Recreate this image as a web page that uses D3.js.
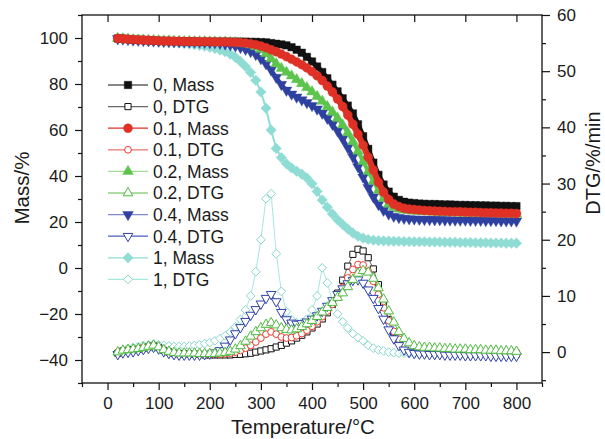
<!DOCTYPE html>
<html>
<head>
<meta charset="utf-8">
<script src="https://cdn.jsdelivr.net/npm/d3@7"></script>
<style>
  body { margin: 0; background: #fff; }
  text { font-family: "Liberation Sans", Arial, Helvetica, sans-serif; fill: #1a1a1a; }
</style>
</head>
<body>
<svg id="chart" width="605" height="439"></svg>
<script>
// Temperature grid (°C) shared by every series
const temperature = [
  20, 30, 40, 50, 60, 70, 80, 90, 100, 110,
  120, 130, 140, 150, 160, 170, 180, 190, 200, 210,
  220, 230, 240, 250, 260, 270, 280, 290, 300, 310,
  320, 330, 340, 350, 360, 370, 380, 390, 400, 410,
  420, 430, 440, 450, 460, 470, 480, 490, 500, 510,
  520, 530, 540, 550, 560, 570, 580, 590, 600, 610,
  620, 630, 640, 650, 660, 670, 680, 690, 700, 710,
  720, 730, 740, 750, 760, 770, 780, 790, 800
];

// Residual mass (%) — left axis
const mass0 = [
  99.8, 99.7, 99.5, 99.3, 99.2, 99.1, 99.0, 98.9, 98.8, 98.7,
  98.7, 98.6, 98.6, 98.5, 98.5, 98.5, 98.4, 98.4, 98.4, 98.4,
  98.4, 98.4, 98.4, 98.4, 98.4, 98.4, 98.3, 98.3, 98.2, 98.1,
  97.8, 97.5, 97.2, 96.8, 96.0, 94.9, 93.6, 91.8, 89.8, 87.6,
  85.2, 82.5, 79.7, 76.8, 73.8, 70.6, 67.2, 62.5, 57.3, 51.8,
  45.8, 40.5, 36.3, 33.2, 31.0, 29.6, 28.8, 28.4, 28.2, 28.0,
  27.9, 27.8, 27.8, 27.7, 27.6, 27.6, 27.5, 27.4, 27.4, 27.3,
  27.3, 27.2, 27.2, 27.1, 27.1, 27.0, 27.0, 26.9, 26.9
];
const mass01 = [
  99.8, 99.7, 99.5, 99.3, 99.2, 99.1, 99.0, 98.9, 98.8, 98.7,
  98.7, 98.6, 98.6, 98.5, 98.5, 98.5, 98.4, 98.4, 98.4, 98.3,
  98.3, 98.3, 98.2, 98.1, 98.0, 97.8, 97.5, 97.1, 96.5, 95.8,
  94.9, 94.0, 93.0, 91.9, 90.8, 89.6, 88.4, 87.0, 85.4, 83.6,
  81.5, 79.1, 76.5, 73.5, 70.2, 66.5, 62.5, 58.2, 53.4, 48.2,
  42.6, 37.3, 33.0, 29.8, 27.8, 26.7, 26.0, 25.6, 25.4, 25.2,
  25.0, 24.9, 24.8, 24.7, 24.6, 24.5, 24.5, 24.4, 24.3, 24.2,
  24.2, 24.1, 24.0, 24.0, 23.9, 23.9, 23.8, 23.8, 23.7
];
const mass02 = [
  99.8, 99.7, 99.5, 99.3, 99.2, 99.1, 99.0, 98.9, 98.8, 98.7,
  98.7, 98.6, 98.6, 98.5, 98.5, 98.4, 98.4, 98.4, 98.3, 98.3,
  98.2, 98.2, 98.1, 98.0, 97.8, 97.5, 97.0, 96.2, 95.0, 93.2,
  91.0, 88.8, 86.8, 85.1, 83.5, 81.9, 80.2, 78.4, 76.6, 74.6,
  72.5, 70.2, 67.8, 65.2, 62.2, 58.8, 55.0, 50.8, 46.4, 42.0,
  37.8, 33.8, 30.3, 27.8, 26.5, 25.7, 25.2, 24.9, 24.7, 24.6,
  24.5, 24.4, 24.3, 24.2, 24.1, 24.1, 24.0, 23.9, 23.9, 23.8,
  23.8, 23.7, 23.7, 23.6, 23.6, 23.5, 23.5, 23.4, 23.4
];
const mass04 = [
  99.7, 99.5, 99.3, 99.1, 99.0, 98.9, 98.8, 98.7, 98.6, 98.5,
  98.5, 98.4, 98.4, 98.3, 98.3, 98.2, 98.2, 98.1, 98.0, 97.9,
  97.7, 97.4, 97.0, 96.5, 95.9, 95.1, 94.1, 92.8, 91.0, 88.8,
  86.1, 82.9, 79.8, 77.3, 75.6, 74.3, 73.1, 71.9, 70.6, 69.1,
  67.3, 65.1, 62.5, 59.6, 56.2, 52.4, 48.3, 44.0, 39.5, 35.0,
  30.9, 27.6, 25.1, 23.5, 22.5, 21.9, 21.6, 21.4, 21.3, 21.2,
  21.1, 21.1, 21.0, 21.0, 20.9, 20.9, 20.8, 20.8, 20.8, 20.7,
  20.7, 20.7, 20.6, 20.6, 20.6, 20.5, 20.5, 20.5, 20.4
];
const mass1 = [
  99.9, 99.8, 99.6, 99.4, 99.2, 99.0, 98.8, 98.6, 98.4, 98.3,
  98.1, 98.0, 97.8, 97.6, 97.4, 97.1, 96.8, 96.4, 96.0, 95.5,
  94.8, 94.0, 93.0, 91.6, 89.8, 87.6, 85.0, 81.6, 76.5, 69.5,
  60.0, 52.0, 48.0, 45.3, 43.5, 42.1, 40.8, 39.1, 36.6, 33.3,
  29.6, 26.4, 23.5, 21.0, 18.9, 17.0, 15.2, 13.8, 13.0, 12.4,
  12.1, 11.9, 11.8, 11.7, 11.6, 11.6, 11.5, 11.5, 11.4, 11.4,
  11.4, 11.3, 11.3, 11.3, 11.2, 11.2, 11.2, 11.1, 11.1, 11.1,
  11.0, 11.0, 11.0, 10.9, 10.9, 10.9, 10.8, 10.8, 10.8
];

// Derivative mass loss (%/min) — right axis
const dtg0 = [
  -0.2, 0.2, 0.3, 0.4, 0.5, 0.7, 0.9, 1.1, 0.8, 0.3,
  0.0, -0.2, -0.3, -0.3, -0.3, -0.4, -0.4, -0.5, -0.5, -0.5,
  -0.5, -0.5, -0.5, -0.4, -0.4, -0.3, -0.2, 0.0, 0.2, 0.4,
  0.6, 0.9, 1.2, 1.6, 2.0, 2.5, 3.0, 3.6, 4.3, 5.0,
  5.9, 7.0, 8.5, 10.5, 12.8, 15.3, 17.4, 18.3, 18.0, 16.8,
  14.8, 12.0, 8.8, 5.8, 3.5, 2.0, 1.0, 0.5, 0.3, 0.2,
  0.1, 0.1, 0.0, 0.0, 0.0, -0.1, -0.1, -0.1, -0.1, -0.1,
  -0.2, -0.2, -0.2, -0.2, -0.2, -0.2, -0.2, -0.3, -0.3
];
const dtg01 = [
  -0.1, 0.2, 0.3, 0.4, 0.6, 0.8, 1.0, 1.1, 0.8, 0.3,
  0.0, -0.2, -0.3, -0.3, -0.3, -0.3, -0.4, -0.4, -0.4, -0.4,
  -0.4, -0.3, -0.2, 0.0, 0.3, 0.7, 1.2, 1.8, 2.5, 3.2,
  3.6, 3.2, 2.7, 2.5, 2.6, 2.9, 3.3, 3.9, 4.6, 5.4,
  6.3, 7.3, 8.5, 9.9, 11.5, 13.2, 14.7, 15.6, 15.5, 14.4,
  12.6, 10.3, 7.9, 5.6, 3.7, 2.3, 1.4, 0.9, 0.6, 0.5,
  0.4, 0.4, 0.3, 0.3, 0.3, 0.2, 0.2, 0.2, 0.2, 0.1,
  0.1, 0.1, 0.1, 0.1, 0.0, 0.0, 0.0, 0.0, 0.0
];
const dtg02 = [
  0.0, 0.3, 0.4, 0.5, 0.6, 0.8, 1.0, 1.2, 0.9, 0.4,
  0.1, -0.1, -0.2, -0.2, -0.2, -0.2, -0.3, -0.3, -0.3, -0.3,
  -0.2, -0.1, 0.1, 0.5, 1.1, 1.9, 2.8, 3.6, 4.3, 4.9,
  5.2, 4.8, 4.3, 4.0, 3.9, 4.1, 4.5, 5.0, 5.6, 6.3,
  7.1, 7.9, 8.8, 9.7, 10.5, 11.6, 12.9, 14.0, 14.5, 14.2,
  13.1, 11.4, 9.4, 7.3, 5.3, 3.6, 2.4, 1.6, 1.1, 0.9,
  0.8, 0.8, 0.7, 0.7, 0.6, 0.6, 0.5, 0.5, 0.5, 0.4,
  0.4, 0.4, 0.3, 0.3, 0.3, 0.2, 0.2, 0.2, 0.1
];
const dtg04 = [
  -0.4, -0.1, 0.0, 0.1, 0.3, 0.5, 0.7, 0.9, 0.6, 0.1,
  -0.2, -0.4, -0.5, -0.5, -0.5, -0.5, -0.5, -0.4, -0.3, -0.1,
  0.3, 1.1, 2.2, 3.3, 4.4, 5.5, 6.6, 7.6, 8.6, 9.6,
  10.3, 9.0, 7.1, 5.8, 5.2, 5.0, 5.1, 5.4, 5.9, 6.5,
  7.3, 8.2, 9.2, 10.3, 11.3, 12.2, 12.8, 12.9, 12.3, 11.1,
  9.6, 7.8, 5.9, 4.0, 2.4, 1.2, 0.4, 0.0, -0.2, -0.3,
  -0.3, -0.4, -0.4, -0.4, -0.5, -0.5, -0.5, -0.5, -0.6, -0.6,
  -0.6, -0.6, -0.6, -0.7, -0.7, -0.7, -0.7, -0.7, -0.7
];
const dtg1 = [
  -0.1, 0.3, 0.6, 0.8, 1.0, 1.2, 1.3, 1.4, 1.3, 1.2,
  1.1, 1.0, 1.0, 1.0, 1.1, 1.2, 1.3, 1.5, 1.7, 2.0,
  2.4, 2.9, 3.6, 4.5, 5.8, 7.5, 10.0, 14.3, 20.0, 27.3,
  28.2, 17.5, 10.8, 7.2, 5.8, 5.2, 5.2, 5.9, 7.5, 10.0,
  15.0, 12.3, 9.0, 6.8, 5.4, 4.3, 3.3, 2.6, 2.0, 1.2,
  0.7, 0.4, 0.2, 0.0, -0.1, -0.2, -0.2, -0.3, -0.3, -0.3,
  -0.3, -0.3, -0.3, -0.3, -0.3, -0.3, -0.3, -0.3, -0.3, -0.3,
  -0.3, -0.3, -0.3, -0.3, -0.3, -0.3, -0.3, -0.3, -0.3
];

// Axis ticks
const xTicks = [0, 100, 200, 300, 400, 500, 600, 700, 800];
const xMinorTicks = [-50, 50, 150, 250, 350, 450, 550, 650, 750, 850];
const massTicks = [-40, -20, 0, 20, 40, 60, 80, 100];
const massMinorTicks = [-50, -30, -10, 10, 30, 50, 70, 90, 110];
const dtgTicks = [0, 10, 20, 30, 40, 50, 60];
const dtgMinorTicks = [-5, 5, 15, 25, 35, 45, 55];

const W = 605, H = 439;
const plot = { left: 82, right: 542, top: 15, bottom: 383 };

const x = d3.scaleLinear().domain([-50, 850]).range([plot.left, plot.right]);
const yMass = d3.scaleLinear().domain([-50, 110]).range([plot.bottom, plot.top]);
const yDtg = d3.scaleLinear().domain([-5.5, 60]).range([plot.bottom, plot.top]);

const svg = d3.select("#chart");

// Marker shapes
const diamond = {
  draw(ctx, size) {
    const r = Math.sqrt(size / 2);
    ctx.moveTo(0, -r); ctx.lineTo(r, 0); ctx.lineTo(0, r); ctx.lineTo(-r, 0); ctx.closePath();
  }
};
const triDown = {
  draw(ctx, size) {
    const s = Math.sqrt(size * 4 / Math.sqrt(3));
    const h = s * Math.sqrt(3) / 2;
    ctx.moveTo(0, h * 2 / 3); ctx.lineTo(s / 2, -h / 3); ctx.lineTo(-s / 2, -h / 3); ctx.closePath();
  }
};
const shapes = {
  square: d3.symbolSquare,
  circle: d3.symbolCircle,
  up: d3.symbolTriangle,
  down: triDown,
  diamond: diamond
};
const filledSize = { square: 56, circle: 64, up: 50, down: 50, diamond: 56 };
const openSize = { square: 38, circle: 36, up: 40, down: 40, diamond: 38 };

// Series definitions (legend order); band = width of the solid trace under dense markers
const series = [
  { label: "0, Mass",   values: mass0,  axis: "mass", shape: "square",  filled: true,  color: "#111111", line: "#111111", band: 5 },
  { label: "0, DTG",    values: dtg0,   axis: "dtg",  shape: "square",  filled: false, color: "#111111", line: "#6a6a6a", band: 1 },
  { label: "0.1, Mass", values: mass01, axis: "mass", shape: "circle",  filled: true,  color: "#e03127", line: "#e03127", band: 6 },
  { label: "0.1, DTG",  values: dtg01,  axis: "dtg",  shape: "circle",  filled: false, color: "#ec3a31", line: "#f07272", band: 1 },
  { label: "0.2, Mass", values: mass02, axis: "mass", shape: "up",      filled: true,  color: "#5dc54e", line: "#a3dd96", band: 4 },
  { label: "0.2, DTG",  values: dtg02,  axis: "dtg",  shape: "up",      filled: false, color: "#4dbb3f", line: "#5cc04c", band: 1 },
  { label: "0.4, Mass", values: mass04, axis: "mass", shape: "down",    filled: true,  color: "#2e40a0", line: "#7f89c6", band: 4 },
  { label: "0.4, DTG",  values: dtg04,  axis: "dtg",  shape: "down",    filled: false, color: "#2e40a8", line: "#4a5cbc", band: 1 },
  { label: "1, Mass",   values: mass1,  axis: "mass", shape: "diamond", filled: true,  color: "#8fdcd5", line: "#8fdcd5", band: 2 },
  { label: "1, DTG",    values: dtg1,   axis: "dtg",  shape: "diamond", filled: false, color: "#86d6cf", line: "#a8e6e0", band: 1 }
];

// Drawing order of the curves (later ones sit on top)
const drawOrder = ["1, Mass", "0.4, Mass", "0.2, Mass", "0, Mass", "0.1, Mass",
                   "1, DTG", "0, DTG", "0.1, DTG", "0.4, DTG", "0.2, DTG"];

function symbolPath(s, scale) {
  const size = (s.filled ? filledSize : openSize)[s.shape] * (scale || 1);
  return d3.symbol().type(shapes[s.shape]).size(size)();
}

const curves = svg.append("g");
drawOrder.forEach(name => {
  const s = series.find(d => d.label === name);
  const yS = s.axis === "mass" ? yMass : yDtg;
  const pts = temperature.map((t, i) => [t, s.values[i]]);
  const g = curves.append("g");
  g.append("path")
    .attr("d", d3.line().x(d => x(d[0])).y(d => yS(d[1]))(pts))
    .attr("fill", "none")
    .attr("stroke", s.band > 1 ? s.color : s.line)
    .attr("stroke-width", s.band)
    .attr("stroke-linejoin", "round");
  g.selectAll("path.mk").data(pts).join("path")
    .attr("class", "mk")
    .attr("d", symbolPath(s))
    .attr("transform", d => `translate(${x(d[0])},${yS(d[1])})`)
    .attr("fill", s.filled ? s.color : "#fff")
    .attr("stroke", s.color)
    .attr("stroke-width", s.filled ? 0.4 : 1);
});

// Axes
const axisFont = 17;
function styleAxis(g) {
  g.select(".domain").remove();
  g.selectAll("line").attr("stroke", "#111").attr("stroke-width", 1.2);
  g.selectAll("text").attr("font-size", axisFont).attr("fill", "#1a1a1a")
    .attr("font-family", '"Liberation Sans", Arial, sans-serif');
}

svg.append("g").attr("transform", `translate(0,${plot.bottom})`)
  .call(d3.axisBottom(x).tickValues(xTicks).tickSize(7).tickPadding(7).tickFormat(d3.format("d")))
  .call(styleAxis);
svg.append("g").attr("transform", `translate(0,${plot.bottom})`)
  .call(d3.axisBottom(x).tickValues(xMinorTicks).tickSize(4).tickFormat(""))
  .call(styleAxis);
svg.append("g").attr("transform", `translate(0,${plot.top})`)
  .call(d3.axisBottom(x).tickValues(xTicks).tickSize(7).tickFormat(""))
  .call(styleAxis);

svg.append("g").attr("transform", `translate(${plot.left},0)`)
  .call(d3.axisLeft(yMass).tickValues(massTicks).tickSize(7).tickPadding(7))
  .call(styleAxis);
svg.append("g").attr("transform", `translate(${plot.left},0)`)
  .call(d3.axisLeft(yMass).tickValues(massMinorTicks).tickSize(4).tickFormat(""))
  .call(styleAxis);

svg.append("g").attr("transform", `translate(${plot.right},0)`)
  .call(d3.axisRight(yDtg).tickValues(dtgTicks).tickSize(8).tickPadding(7))
  .call(styleAxis);
svg.append("g").attr("transform", `translate(${plot.right},0)`)
  .call(d3.axisRight(yDtg).tickValues(dtgMinorTicks).tickSize(4).tickFormat(""))
  .call(styleAxis);

// Frame
svg.append("rect")
  .attr("x", plot.left).attr("y", plot.top)
  .attr("width", plot.right - plot.left).attr("height", plot.bottom - plot.top)
  .attr("fill", "none").attr("stroke", "#111").attr("stroke-width", 1.3);

// Axis titles
svg.append("text").attr("x", 303).attr("y", 434).attr("text-anchor", "middle")
  .attr("font-size", 20.5).text("Temperature/°C");
svg.append("text").attr("transform", "translate(29,188) rotate(-90)").attr("text-anchor", "middle")
  .attr("font-size", 20.5).text("Mass/%");
svg.append("text").attr("transform", "translate(600,163) rotate(-90)").attr("text-anchor", "middle")
  .attr("font-size", 20).text("DTG/%/min");

// Legend
const legend = svg.append("g");
series.forEach((s, i) => {
  const cy = 85 + i * 21.6;
  const row = legend.append("g").attr("transform", `translate(0,${cy})`);
  row.append("line").attr("x1", 108).attr("x2", 148).attr("y1", 0).attr("y2", 0)
    .attr("stroke", s.line).attr("stroke-width", 1.2);
  row.append("path").attr("d", symbolPath(s))
    .attr("transform", "translate(128,0)")
    .attr("fill", s.filled ? s.color : "#fff")
    .attr("stroke", s.color).attr("stroke-width", s.filled ? 0.4 : 1);
  row.append("text").attr("x", 153).attr("y", 6.3).attr("font-size", 17.5).text(s.label);
});
</script>
</body>
</html>
